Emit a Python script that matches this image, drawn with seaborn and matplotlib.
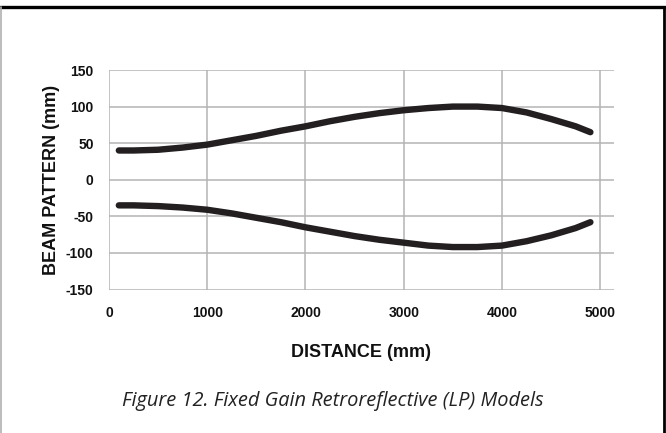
import matplotlib
matplotlib.use("Agg")
import matplotlib.pyplot as plt
from matplotlib.lines import Line2D
import numpy as np
import pandas as pd
import seaborn as sns

# Beam pattern envelope (mm) vs. distance (mm)
distance = [100, 250, 500, 750, 1000, 1250, 1500, 1750, 2000, 2250, 2500,
            2750, 3000, 3250, 3500, 3750, 4000, 4250, 4500, 4750, 4900]
upper_edge = [40, 40, 41, 44, 48, 54, 60, 67, 73, 80, 86,
              91, 95, 98, 100, 100, 98, 92, 83, 73, 65]
lower_edge = [-35, -35, -36, -38, -41, -46, -52, -58, -65, -71, -77,
              -82, -86, -90, -92, -92, -90, -84, -76, -66, -58]

x_ticks = [0, 1000, 2000, 3000, 4000, 5000]
y_ticks = [150, 100, 50, 0, -50, -100, -150]

x_label = "DISTANCE (mm)"
y_label = "BEAM PATTERN (mm)"
caption = "Figure 12. Fixed Gain Retroreflective (LP) Models"

df = pd.concat([
    pd.DataFrame({"distance": distance, "beam": upper_edge, "edge": "upper"}),
    pd.DataFrame({"distance": distance, "beam": lower_edge, "edge": "lower"}),
])

sns.set_style("white")
narrow = ["Liberation Sans Narrow", "Liberation Sans", "DejaVu Sans"]
plt.rcParams["font.family"] = narrow

W, H = 666, 433
fig = plt.figure(figsize=(W / 100, H / 100), dpi=100)
ax = fig.add_axes([109 / W, 1 - 289.5 / H, (613.5 - 109) / W, (289.5 - 70) / H])

sns.lineplot(data=df, x="distance", y="beam", hue="edge", units="edge",
             estimator=None, sort=False, palette=["#231f20", "#231f20"],
             linewidth=4.6, legend=False, ax=ax, solid_capstyle="round")

ax.set_xlim(0, 5135)
ax.set_ylim(-150, 150)
ax.set_xticks(x_ticks)
ax.set_yticks(y_ticks)
ax.set_xticklabels([str(t) for t in x_ticks], fontsize=10, fontweight="bold",
                   family=narrow)
ax.set_yticklabels([str(t) for t in y_ticks], fontsize=10, fontweight="bold",
                   family=narrow)
ax.grid(True, color="#b4b4b4", linewidth=1.1)
ax.set_axisbelow(True)
for s in ax.spines.values():
    s.set_visible(False)
ax.tick_params(axis="both", colors="#b4b4b4", labelcolor="#111111",
               length=5, width=1.1, direction="out")
ax.tick_params(axis="x", pad=7)
ax.tick_params(axis="y", pad=6)

ax.set_xlabel(x_label, fontsize=13, fontweight="bold", family=narrow,
              color="#111111", labelpad=17)
ax.set_ylabel(y_label, fontsize=13, fontweight="bold", family=narrow,
              color="#111111", labelpad=4)

fig.text(333 / W, 1 - 401 / H, caption, ha="center", va="center",
         fontsize=14.4, style="italic", family=["Open Sans", "DejaVu Sans"],
         color="#222222")

# Frame: heavy top rule, thin grey left edge, heavy right edge
fig.add_artist(Line2D([0, 1], [1 - 6.5 / H, 1 - 6.5 / H], color="black",
                      linewidth=2.4, transform=fig.transFigure))
fig.add_artist(Line2D([0.5 / W, 0.5 / W], [0, 1 - 6.5 / H], color="#b0b0b0",
                      linewidth=1.2, transform=fig.transFigure))
fig.add_artist(Line2D([664 / W, 664 / W], [0, 1 - 6.5 / H], color="black",
                      linewidth=2.0, transform=fig.transFigure))

fig.savefig("out.png", dpi=100)
